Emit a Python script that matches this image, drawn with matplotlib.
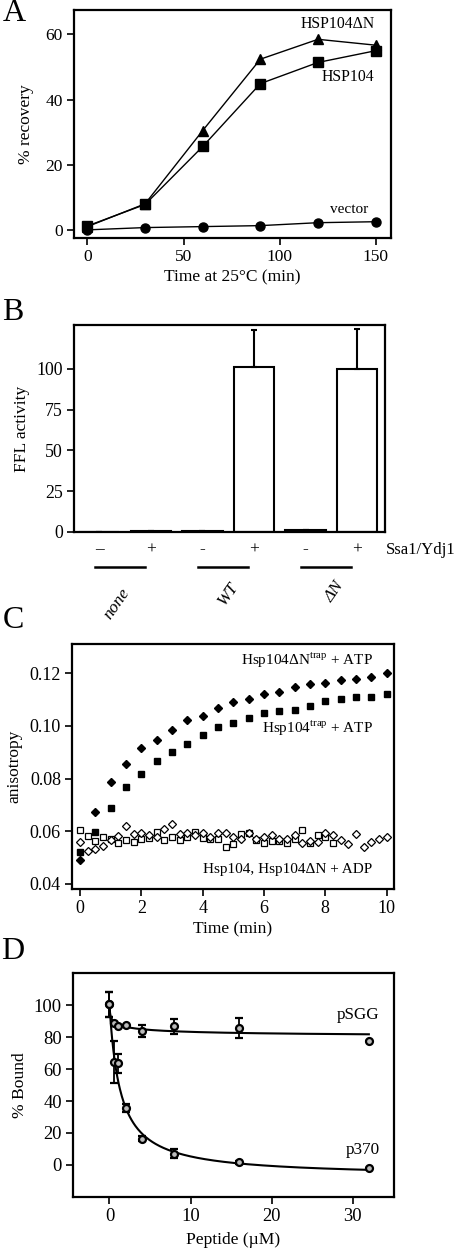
import numpy as np
import matplotlib.pyplot as plt

plt.rcParams['font.family'] = ['Liberation Serif', 'DejaVu Serif']
plt.rcParams['mathtext.fontset'] = 'custom'
plt.rcParams['mathtext.rm'] = 'Liberation Serif'
plt.rcParams['font.size'] = 12
plt.rcParams['axes.linewidth'] = 1.6

# ---- panel A: recovery after heat shock
time_a = [0, 30, 60, 90, 120, 150]
hsp104 = [1.2, 7.8, 25.6, 44.9, 51.4, 55.0]
hsp104_dn = [1.0, 8.0, 30.5, 52.4, 58.5, 56.7]
vector = [0.0, 0.7, 1.0, 1.3, 2.2, 2.5]

# ---- panel B: FFL activity
bar_vals = [0.0, 0.8, 0.5, 101.0, 1.3, 99.6]
bar_err = [0, 0, 0, 22.5, 0, 24.5]
ssa_labels = ['\u2013', '+', '-', '+', '-', '+']
groups = ['none', 'WT', '\u0394N']

# ---- panel C: anisotropy time course
t_fast = np.arange(0, 10.01, 0.5)
dn_trap = [0.0491, 0.0675, 0.0786, 0.0857, 0.0915, 0.0947, 0.0985, 0.1022,
           0.1039, 0.1068, 0.1089, 0.1104, 0.1120, 0.1129, 0.1149, 0.1158,
           0.1162, 0.1175, 0.1177, 0.1185, 0.1200]
wt_trap = [0.0520, 0.0596, 0.0689, 0.0770, 0.0817, 0.0868, 0.0901, 0.0933,
           0.0967, 0.0996, 0.1013, 0.1032, 0.1049, 0.1058, 0.1061, 0.1076,
           0.1096, 0.1101, 0.1109, 0.1109, 0.1122]
t_adp_wt = np.arange(0, 8.26, 0.25)
adp_wt = [0.0605, 0.0584, 0.0563, 0.0580, 0.0570, 0.0556, 0.0567, 0.0560,
          0.0570, 0.0576, 0.0596, 0.0567, 0.0580, 0.0567, 0.0580, 0.0596,
          0.0573, 0.0571, 0.0571, 0.0540, 0.0552, 0.0590, 0.0595, 0.0567,
          0.0557, 0.0563, 0.0563, 0.0557, 0.0571, 0.0605, 0.0557, 0.0586,
          0.0580, 0.0557]
t_adp_dn = np.arange(0, 10.01, 0.25)
adp_dn = [0.0561, 0.0527, 0.0534, 0.0546, 0.0567, 0.0582, 0.0622, 0.0589,
          0.0595, 0.0586, 0.0580, 0.0608, 0.0627, 0.0590, 0.0592, 0.0586,
          0.0592, 0.0580, 0.0595, 0.0592, 0.0577, 0.0571, 0.0592, 0.0570,
          0.0580, 0.0586, 0.0571, 0.0571, 0.0586, 0.0557, 0.0563, 0.0560,
          0.0595, 0.0586, 0.0567, 0.0550, 0.0590, 0.0542, 0.0558, 0.0570,
          0.0580]

# ---- panel D: peptide competition
pep = np.array([0, 0.5, 1, 2, 4, 8, 16, 32])
psgg = np.array([100.6, 89.0, 87.2, 88.0, 83.9, 86.8, 86.0, 77.4])
psgg_err = [8.0, 0, 0, 0, 3.9, 4.6, 6.3, 0]
p370 = np.array([100.6, 64.6, 63.8, 35.4, 16.3, 7.1, 1.5, -2.1])
p370_err = [8.0, 13.0, 6.0, 2.5, 1.5, 3.0, 1.0, 0]


def fit_curve(x, y):
    # top fixed at 100, grid search for bottom / ic50 / hill slope
    b = np.linspace(-15, 95, 221)[:, None, None, None]
    ic = np.geomspace(0.03, 10, 120)[None, :, None, None]
    h = np.linspace(0.5, 2.5, 21)[None, None, :, None]
    pred = b + (100 - b) / (1 + (x / ic) ** h)
    sse = ((pred - y) ** 2).sum(axis=-1)
    i, j, k = np.unravel_index(np.argmin(sse), sse.shape)
    return b[i, 0, 0, 0], ic[0, j, 0, 0], h[0, 0, k, 0]


def style(ax, size):
    ax.tick_params(direction='out', length=5, width=1.2, labelsize=size, pad=3)
    for s in ax.spines.values():
        s.set_linewidth(1.6)


fig = plt.figure(figsize=(4.56, 12.5), dpi=100)

# A
ax = fig.add_axes([0.1623, 0.8096, 0.6952, 0.1824])
ax.plot(time_a, hsp104_dn, '-^', color='black', lw=1, ms=7.5)
ax.plot(time_a, hsp104, '-s', color='black', lw=1, ms=6.5)
ax.plot(time_a, vector, '-o', color='black', lw=1, ms=6.5)
ax.set_xlim(-7, 158)
ax.set_ylim(-2.5, 67.5)
ax.set_xticks([0, 50, 100, 150])
ax.set_yticks([0, 20, 40, 60])
ax.set_xlabel('Time at 25\u00b0C (min)', fontsize=12.5, labelpad=3)
ax.set_ylabel('% recovery', fontsize=12.5)
ax.yaxis.set_label_coords(-0.125, 0.5)
ax.text(130.2, 63.2, 'HSP104\u0394N', ha='center', va='center', fontsize=11.3)
ax.text(135.8, 46.9, 'HSP104', ha='center', va='center', fontsize=11.3)
ax.text(136.4, 6.4, 'vector', ha='center', va='center', fontsize=11)
style(ax, 12.5)
fig.text(0.005, 0.9895, 'A', fontsize=23, va='center')

# B
ax = fig.add_axes([0.1623, 0.5744, 0.682, 0.1658])
xb = np.arange(len(bar_vals))
ax.bar(xb, bar_vals, width=0.78, color='white', edgecolor='black', lw=1.5,
       yerr=[np.zeros(len(bar_err)), bar_err], capsize=2.5,
       error_kw=dict(elinewidth=1.5, capthick=1.5))
ax.set_xlim(-0.49, 5.54)
ax.set_ylim(0, 127)
ax.set_xticks([])
ax.set_yticks([0, 25, 50, 75, 100])
ax.set_ylabel('FFL activity', fontsize=12.5)
ax.yaxis.set_label_coords(-0.14, 0.5)
style(ax, 12.8)
tr = ax.get_xaxis_transform()
for i, lab in enumerate(ssa_labels):
    ax.text(xb[i], -0.085, lab, transform=tr, ha='center', va='center',
            fontsize=12.5)
ax.text(5.56, -0.085, 'Ssa1/Ydj1', transform=tr, ha='left', va='center',
        fontsize=12)
for g, name in enumerate(groups):
    ax.plot([2 * g - 0.08, 2 * g + 0.88], [-0.167, -0.167], transform=tr,
            color='black', lw=1.8, clip_on=False)
ax.text(0.34, -0.344, groups[0], transform=tr, rotation=55, ha='center',
        va='center', style='italic', fontsize=12.5)
ax.text(2.5, -0.296, groups[1], transform=tr, rotation=55, ha='center',
        va='center', style='italic', fontsize=12.5)
ax.text(4.56, -0.288, groups[2], transform=tr, rotation=55, ha='center',
        va='center', style='italic', fontsize=12.5)
fig.text(0.005, 0.7496, 'B', fontsize=23, va='center')

# C
ax = fig.add_axes([0.1579, 0.2888, 0.7061, 0.196])
ax.plot(t_adp_wt, adp_wt, 's', mfc='white', mec='black', mew=0.9, ms=4.5)
ax.plot(t_adp_dn, adp_dn, 'D', mfc='white', mec='black', mew=0.9, ms=3.8)
ax.plot(t_fast, wt_trap, 's', color='black', ms=5)
ax.plot(t_fast, dn_trap, 'D', color='black', ms=4.5)
ax.set_xlim(-0.26, 10.24)
ax.set_ylim(0.0381, 0.1311)
ax.set_xticks([0, 2, 4, 6, 8, 10])
ax.set_yticks([0.04, 0.06, 0.08, 0.10, 0.12])
ax.set_yticklabels(['0.04', '0.06', '0.08', '0.10', '0.12'])
ax.set_xlabel('Time (min)', fontsize=12.5, labelpad=3)
ax.set_ylabel('anisotropy', fontsize=12.5)
ax.yaxis.set_label_coords(-0.155, 0.5)
ax.text(9.55, 0.125, 'Hsp104\u0394N$^{\\mathrm{trap}}$ + ATP', ha='right',
        va='center', fontsize=11)
ax.text(9.55, 0.0992, 'Hsp104$^{\\mathrm{trap}}$ + ATP', ha='right',
        va='center', fontsize=11)
ax.text(9.52, 0.0456, 'Hsp104, Hsp104\u0394N + ADP', ha='right', va='center',
        fontsize=11)
style(ax, 13)
fig.text(0.005, 0.504, 'C', fontsize=23, va='center')

# D
ax = fig.add_axes([0.1601, 0.0426, 0.7039, 0.1792])
xs = np.linspace(0, 32, 400)
for yv, ye in [(psgg, psgg_err), (p370, p370_err)]:
    b, ic, h = fit_curve(pep, yv)
    ax.plot(xs, b + (100 - b) / (1 + (xs / ic) ** h), color='black', lw=1.5)
    ax.errorbar(pep, yv, yerr=ye, fmt='o', mfc='#bbbbbb', mec='black', mew=1.6,
                ms=5, ecolor='black', elinewidth=1.3, capsize=3, capthick=1.3)
ax.set_xlim(-4.5, 35.1)
ax.set_ylim(-20, 120.5)
ax.set_xticks([0, 10, 20, 30])
ax.set_yticks([0, 20, 40, 60, 80, 100])
ax.set_xlabel('Peptide (\u00b5M)', fontsize=12.6, labelpad=5)
ax.set_ylabel('% Bound', fontsize=12.6)
ax.yaxis.set_label_coords(-0.14, 0.5)
ax.text(30.7, 93.9, 'pSGG', ha='center', va='center', fontsize=12.3)
ax.text(31.3, 9.2, 'p370', ha='center', va='center', fontsize=12.3)
style(ax, 13.3)
fig.text(0.003, 0.2385, 'D', fontsize=23, va='center')

fig.savefig('out.png', dpi=100)
